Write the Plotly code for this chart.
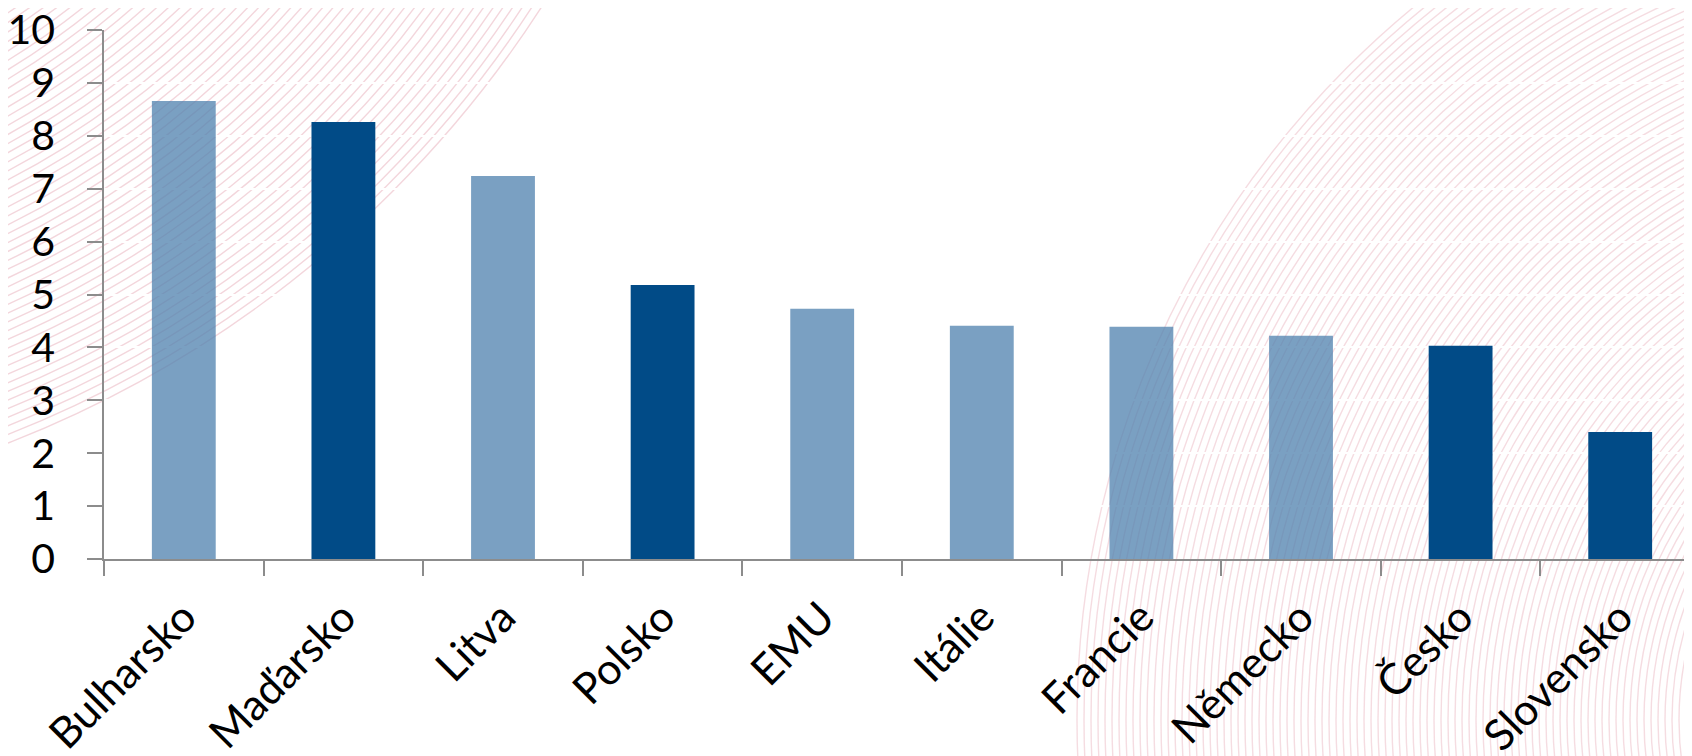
import plotly.graph_objects as go
import numpy as np

categories = ["Bulharsko", "Maďarsko", "Litva", "Polsko", "EMU", "Itálie",
              "Francie", "Německo", "Česko", "Slovensko"]
values = [8.66, 8.26, 7.24, 5.18, 4.73, 4.41, 4.39, 4.22, 4.03, 2.40]
is_euro = [True, False, True, False, True, True, True, True, False, False]
y_ticks = list(range(0, 11))

LIGHT = "rgba(80,130,175,0.76)"
DARK = "#014b87"
colors = [LIGHT if e else DARK for e in is_euro]

W, H = 1692, 756
OFF = 8  # page body margin
ML, MT, MB, MR = 96, 22, 205, 0
PW, PH = W - ML - MR, H - MT - MB

def px2paper(x, y):
    # x, y in screenshot pixels
    return (x - OFF - ML) / PW, (OFF + H - MB - y) / PH

fig = go.Figure()
fig.add_trace(go.Bar(x=categories, y=values, marker=dict(color=colors, line=dict(width=0)),
                     width=0.4, showlegend=False))

shapes = []
def arcs(cx, cy, r0, r1, step, color):
    for r in np.arange(r0, r1, step):
        x0, y0 = px2paper(cx - r, cy - r)
        x1, y1 = px2paper(cx + r, cy + r)
        shapes.append(dict(type="circle", xref="paper", yref="paper",
                           x0=x0, x1=x1, y0=y1, y1=y0, layer="below",
                           line=dict(color=color, width=1.4)))

arcs(-400, -600, 720, 1125, 8, "rgba(215,120,140,0.30)")
arcs(2000, 720, 300, 925, 7, "rgba(215,120,140,0.26)")

FONT = "Lato"
fig.update_layout(
    width=W, height=H,
    margin=dict(l=ML, r=MR, t=MT, b=MB, autoexpand=False),
    paper_bgcolor="white", plot_bgcolor="rgba(0,0,0,0)",
    font=dict(family=FONT, size=42, color="black"),
    shapes=shapes,
    xaxis=dict(range=[-0.5, 9.5], showline=True, linecolor="#8c8c8c", linewidth=1.5,
               ticks="outside", tickson="boundaries", ticklen=15, tickcolor="#8c8c8c",
               tickwidth=1.5, tickangle=-45, showgrid=False, ticklabelstandoff=14,
               automargin=False, ticklabeloverflow="allow",
               tickfont=dict(family=FONT, size=43)),
    yaxis=dict(range=[0, 10], tickvals=y_ticks, showline=True, linecolor="#8c8c8c",
               linewidth=1.5, ticks="outside", ticklen=15, tickcolor="#8c8c8c",
               tickwidth=1.5, showgrid=True, gridcolor="white", gridwidth=2,
               zeroline=False, ticklabelstandoff=24, automargin=False,
               ticklabeloverflow="allow", tickfont=dict(family=FONT, size=41)),
)

fig.write_html("out.html")
